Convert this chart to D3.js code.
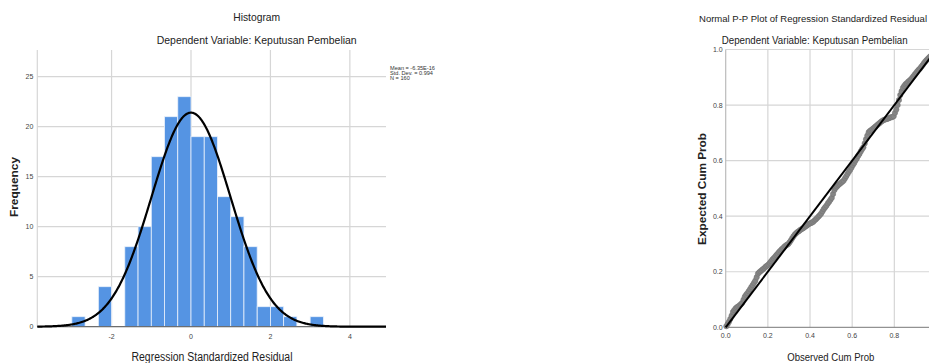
<!DOCTYPE html>
<html>
<head>
<meta charset="utf-8">
<script src="https://cdn.jsdelivr.net/npm/d3@7"></script>
<style>
  html, body { margin: 0; padding: 0; background: #fff; }
  svg { display: block; }
  text { font-family: "Liberation Sans Narrow", "Arial Narrow", "Liberation Sans", Arial, sans-serif; }
</style>
</head>
<body>
<svg id="chart" width="929" height="363"></svg>
<script>
// histogram data (bin lower edges, bin width 1/3)
const binLower = [-3, -2.667, -2.333, -2, -1.667, -1.333, -1, -0.667, -0.333, 0, 0.333, 0.667, 1, 1.333, 1.667, 2, 2.333, 2.667, 3];
const binCounts = [1, 0, 4, 0, 8, 10, 17, 21, 23, 19, 19, 13, 11, 8, 2, 2, 1, 0, 1];
const binWidth = 1 / 3;
const histXTicks = [-2, 0, 2, 4];
const histYTicks = [0, 5, 10, 15, 20, 25];
const statsLines = ["Mean = -6.35E-16", "Std. Dev. = 0.994", "N = 160"];
const resMean = 0, resSd = 0.994, resN = 160;

// P-P plot: expected cum prob for each sorted residual (observed = (i-0.5)/N)
const ppExpected = [
  .004, .012, .020, .030, .042, .055, .062, .068, .072, .075,
  .079, .083, .088, .099, .110, .117, .123, .130, .137, .145,
  .152, .160, .168, .180, .193, .198, .202, .206, .210, .214,
  .219, .222, .226, .232, .238, .244, .249, .254, .260, .265,
  .271, .276, .281, .285, .290, .294, .297, .300, .306, .313,
  .321, .328, .334, .339, .343, .346, .350, .353, .356, .359,
  .363, .366, .370, .373, .375, .377, .380, .385, .389, .394,
  .399, .404, .410, .418, .426, .432, .438, .446, .452, .459,
  .466, .480, .494, .502, .507, .512, .516, .520, .524, .528,
  .536, .544, .552, .560, .567, .575, .584, .591, .600, .608,
  .617, .624, .633, .641, .648, .662, .677, .690, .702, .707,
  .710, .714, .718, .722, .726, .730, .734, .738, .742, .745,
  .747, .749, .750, .752, .754, .756, .757, .760, .772, .784,
  .800, .818, .836, .850, .862, .869, .875, .879, .884, .888,
  .892, .898, .904, .910, .916, .922, .927, .932, .938, .944,
  .951, .957, .962, .967, .972, .976, .981, .986, .991, .996
];
const ppYTicks = [0, 0.2, 0.4, 0.6, 0.8, 1.0];
const ppXTicks = [0, 0.2, 0.4, 0.6, 0.8];   // 1.0 falls outside the cropped picture

const svg = d3.select("#chart");
const gridColor = "#d6d6d6";
const tickFill = "#444";

// ---------- Histogram ----------
const hp = { left: 37.3, right: 386, top: 50, bottom: 326.7 };
const hx = d3.scaleLinear().domain([-3.87, 4.91]).range([hp.left, hp.right]);
const hy = d3.scaleLinear().domain([0, 27.67]).range([hp.bottom, hp.top]);

const hg = svg.append("g");

hg.append("g").selectAll("line").data(histYTicks).join("line")
  .attr("x1", hp.left).attr("x2", hp.right)
  .attr("y1", d => hy(d)).attr("y2", d => hy(d))
  .attr("stroke", gridColor).attr("stroke-width", 1.2);
hg.append("g").selectAll("line").data(histXTicks).join("line")
  .attr("x1", d => hx(d)).attr("x2", d => hx(d))
  .attr("y1", hp.top).attr("y2", hp.bottom)
  .attr("stroke", gridColor).attr("stroke-width", 1.2);
hg.append("line")
  .attr("x1", hp.left).attr("x2", hp.left).attr("y1", hp.top).attr("y2", hp.bottom)
  .attr("stroke", gridColor).attr("stroke-width", 1.2);

hg.append("g").selectAll("rect").data(binLower.map((b, i) => ({ x0: b, n: binCounts[i] })).filter(d => d.n > 0)).join("rect")
  .attr("x", d => hx(d.x0))
  .attr("y", d => hy(d.n))
  .attr("width", d => hx(d.x0 + binWidth) - hx(d.x0))
  .attr("height", d => hy(0) - hy(d.n))
  .attr("fill", "#5594e3")
  .attr("stroke", "#eaf1fb").attr("stroke-width", 0.8);

hg.append("line")
  .attr("x1", hp.left).attr("x2", hp.right).attr("y1", hp.bottom).attr("y2", hp.bottom)
  .attr("stroke", "#555").attr("stroke-width", 1);

// normal curve from the stated mean / sd, scaled to counts per bin
const normPts = d3.range(hx.domain()[0], hx.domain()[1] + 0.001, 0.02).map(v => {
  const z = (v - resMean) / resSd;
  return [v, resN * binWidth * Math.exp(-0.5 * z * z) / (resSd * Math.sqrt(2 * Math.PI))];
});
hg.append("path")
  .attr("d", d3.line().x(d => hx(d[0])).y(d => hy(d[1]))(normPts))
  .attr("fill", "none").attr("stroke", "#000").attr("stroke-width", 2.2);

hg.append("g").selectAll("text").data(histYTicks).join("text")
  .attr("x", hp.left - 4).attr("y", d => hy(d)).attr("dy", "0.35em")
  .attr("text-anchor", "end").attr("font-size", 7).attr("fill", tickFill)
  .text(d => d);
hg.append("g").selectAll("text").data(histXTicks).join("text")
  .attr("x", d => hx(d)).attr("y", 338.5)
  .attr("text-anchor", "middle").attr("font-size", 7).attr("fill", tickFill)
  .text(d => d);

hg.append("g").selectAll("text").data(statsLines).join("text")
  .attr("x", 390).attr("y", (d, i) => 70 + i * 5.2)
  .attr("font-size", 5.6).attr("fill", "#333")
  .text(d => d);

hg.append("text").attr("x", 256.7).attr("y", 21).attr("text-anchor", "middle")
  .attr("font-size", 11.5).attr("fill", "#222")
  .attr("textLength", 47).attr("lengthAdjust", "spacingAndGlyphs").text("Histogram");
hg.append("text").attr("x", 256.7).attr("y", 44).attr("text-anchor", "middle")
  .attr("font-size", 11.5).attr("fill", "#222")
  .attr("textLength", 200).attr("lengthAdjust", "spacingAndGlyphs").text("Dependent Variable: Keputusan Pembelian");
hg.append("text").attr("x", 212).attr("y", 361).attr("text-anchor", "middle")
  .attr("font-size", 12).attr("fill", "#222")
  .attr("textLength", 161).attr("lengthAdjust", "spacingAndGlyphs").text("Regression Standardized Residual");
hg.append("text").attr("transform", "translate(17.5,187) rotate(-90)").attr("text-anchor", "middle")
  .attr("font-size", 11).attr("font-weight", "bold").attr("fill", "#222")
  .attr("textLength", 60).attr("lengthAdjust", "spacingAndGlyphs").text("Frequency");

// ---------- P-P plot ----------
const pp = { left: 725.7, right: 936.5, top: 49.5, bottom: 327.3 };
const px = d3.scaleLinear().domain([0, 1]).range([pp.left, pp.right]);
const py = d3.scaleLinear().domain([0, 1]).range([pp.bottom, pp.top]);

const pg = svg.append("g");
pg.append("g").selectAll("line").data(ppYTicks.slice(1)).join("line")
  .attr("x1", pp.left).attr("x2", pp.right)
  .attr("y1", d => py(d)).attr("y2", d => py(d))
  .attr("stroke", gridColor).attr("stroke-width", 1.2);
pg.append("g").selectAll("line").data(ppXTicks.slice(1)).join("line")
  .attr("x1", d => px(d)).attr("x2", d => px(d))
  .attr("y1", pp.top).attr("y2", pp.bottom)
  .attr("stroke", gridColor).attr("stroke-width", 1.2);
pg.append("line")
  .attr("x1", pp.left).attr("x2", pp.left).attr("y1", pp.top).attr("y2", pp.bottom)
  .attr("stroke", "#bbb").attr("stroke-width", 1.2);
pg.append("line")
  .attr("x1", pp.left).attr("x2", pp.right).attr("y1", pp.bottom).attr("y2", pp.bottom)
  .attr("stroke", "#777").attr("stroke-width", 1);

pg.append("g").selectAll("circle").data(ppExpected).join("circle")
  .attr("cx", (d, i) => px((i + 0.5) / ppExpected.length))
  .attr("cy", d => py(d))
  .attr("r", 2.7)
  .attr("fill", "#858585").attr("stroke", "#737373").attr("stroke-width", 0.5);

pg.append("line")
  .attr("x1", px(0)).attr("y1", py(0)).attr("x2", px(1)).attr("y2", py(1))
  .attr("stroke", "#000").attr("stroke-width", 2);

pg.append("g").selectAll("text").data(ppYTicks).join("text")
  .attr("x", pp.left - 3).attr("y", d => py(d)).attr("dy", "0.35em")
  .attr("text-anchor", "end").attr("font-size", 7).attr("fill", tickFill)
  .text(d => d.toFixed(1));
pg.append("g").selectAll("text").data(ppXTicks).join("text")
  .attr("x", d => px(d)).attr("y", 337.5)
  .attr("text-anchor", "middle").attr("font-size", 7).attr("fill", tickFill)
  .text(d => d.toFixed(1));

pg.append("text").attr("x", 813).attr("y", 22).attr("text-anchor", "middle")
  .attr("font-size", 9.6).attr("fill", "#222")
  .attr("textLength", 228).attr("lengthAdjust", "spacingAndGlyphs").text("Normal P-P Plot of Regression Standardized Residual");
pg.append("text").attr("x", 814.7).attr("y", 44).attr("text-anchor", "middle")
  .attr("font-size", 10.5).attr("fill", "#222")
  .attr("textLength", 186).attr("lengthAdjust", "spacingAndGlyphs").text("Dependent Variable: Keputusan Pembelian");
pg.append("text").attr("x", 830.8).attr("y", 361).attr("text-anchor", "middle")
  .attr("font-size", 11).attr("fill", "#222")
  .attr("textLength", 87).attr("lengthAdjust", "spacingAndGlyphs").text("Observed Cum Prob");
pg.append("text").attr("transform", "translate(705.5,189) rotate(-90)").attr("text-anchor", "middle")
  .attr("font-size", 11).attr("font-weight", "bold").attr("fill", "#222")
  .attr("textLength", 112).attr("lengthAdjust", "spacingAndGlyphs").text("Expected Cum Prob");
</script>
</body>
</html>
